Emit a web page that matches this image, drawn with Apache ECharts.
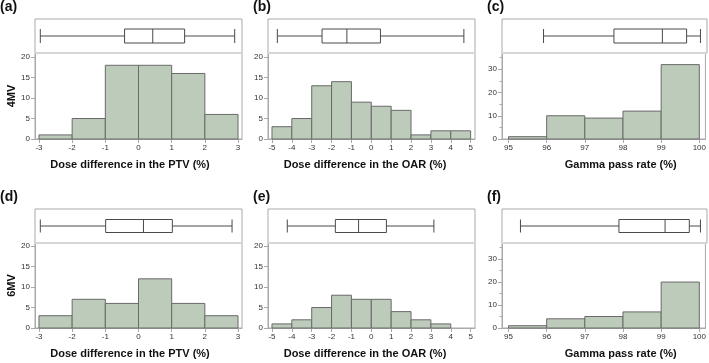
<!DOCTYPE html>
<html>
<head>
<meta charset="utf-8">
<script src="https://cdn.jsdelivr.net/npm/echarts@6/dist/echarts.min.js"></script>
<style>
html,body{margin:0;padding:0;background:#fff;}
#chart{width:709px;height:363px;}
</style>
</head>
<body>
<div id="chart"></div>
<script>
// ---------- data ----------
const ptvEdges   = [-3, -2, -1, 0, 1, 2, 3];
const oarEdges   = [-5, -4, -3, -2, -1, 0, 1, 2, 3, 4, 5];
const gammaEdges = [95, 96, 97, 98, 99, 100];

const countsPTV4  = [1, 5, 18, 18, 16, 6];
const countsOAR4  = [3, 5, 13, 14, 9, 8, 7, 1, 2, 2];
const countsGam4  = [1, 10, 9, 12, 32];
const countsPTV6  = [3, 7, 6, 12, 6, 3];
const countsOAR6  = [1, 2, 5, 8, 7, 7, 4, 2, 1, 0];
const countsGam6  = [1, 4, 5, 7, 20];

// [min, Q1, median, Q3, max]
const boxPTV4 = [-2.96, -0.42, 0.43, 1.39, 2.90];
const boxOAR4 = [-4.73, -2.48, -1.23, 0.46, 4.66];
const boxGam4 = [95.91, 97.74, 99.00, 99.63, 99.99];
const boxPTV6 = [-2.96, -0.99, 0.15, 1.02, 2.82];
const boxOAR6 = [-4.23, -1.81, -0.64, 0.76, 3.15];
const boxGam6 = [95.31, 97.87, 99.07, 99.70, 99.99];

const ptvTicks   = [-3, -2, -1, 0, 1, 2, 3];
const oarTicks   = [-5, -4, -3, -2, -1, 0, 1, 2, 3, 4, 5];
const gammaTicks = [95, 96, 97, 98, 99, 100];
const doseCountTicks   = [0, 5, 10, 15, 20];
const gammaCountTicks  = [0, 10, 20, 30];
const gammaMinorTicks  = [5, 15, 25, 35];

const namePTV   = 'Dose difference in the PTV (%)';
const nameOAR   = 'Dose difference in the OAR (%)';
const nameGamma = 'Gamma pass rate (%)';
const panelLabels = ['(a)', '(b)', '(c)', '(d)', '(e)', '(f)'];
const rowLabels = ['4MV', '6MV'];

// ---------- layout ----------
const FONT = 'Liberation Sans, Arial, Helvetica, sans-serif';
const FRAME = '#a9a9a9';
const cols = [
  {left: 35,  width: 207, min: -3.12, max: 3.12,   pad: [0, 17, 0, 0], labelX: 0},
  {left: 268, width: 207, min: -5.2,  max: 5.22,   pad: [0, 13, 0, 0], labelX: 253},
  {left: 502, width: 205, min: 94.83, max: 100.16, pad: [0, 0, 0, 34], labelX: 487}
];
const rows = [
  {top: 19,  boxH: 34, histH: 86, boxW: 14, doseMax: 21,    gamMax: 37, labelY: 8},
  {top: 209, boxH: 34, histH: 85, boxW: 13, doseMax: 20.75, gamMax: 37, labelY: 198}
];

const panels = [
  {row: 0, col: 0, edges: ptvEdges,   counts: countsPTV4, box: boxPTV4, xTicks: ptvTicks,   name: namePTV,   gamma: false},
  {row: 0, col: 1, edges: oarEdges,   counts: countsOAR4, box: boxOAR4, xTicks: oarTicks,   name: nameOAR,   gamma: false},
  {row: 0, col: 2, edges: gammaEdges, counts: countsGam4, box: boxGam4, xTicks: gammaTicks, name: nameGamma, gamma: true},
  {row: 1, col: 0, edges: ptvEdges,   counts: countsPTV6, box: boxPTV6, xTicks: ptvTicks,   name: namePTV,   gamma: false},
  {row: 1, col: 1, edges: oarEdges,   counts: countsOAR6, box: boxOAR6, xTicks: oarTicks,   name: nameOAR,   gamma: false},
  {row: 1, col: 2, edges: gammaEdges, counts: countsGam6, box: boxGam6, xTicks: gammaTicks, name: nameGamma, gamma: true}
];

const grid = [], xAxis = [], yAxis = [], series = [], graphic = [];

panels.forEach((p, i) => {
  const c = cols[p.col], r = rows[p.row];
  const gBox = grid.length;
  grid.push({left: c.left, top: r.top, width: c.width, height: r.boxH,
    show: true, borderColor: FRAME, borderWidth: 1, backgroundColor: 'transparent'});
  const gHist = grid.length;
  grid.push({left: c.left, top: r.top + r.boxH, width: c.width, height: r.histH,
    show: true, borderColor: FRAME, borderWidth: 1, backgroundColor: 'transparent'});

  const xBox = xAxis.length;
  xAxis.push({gridIndex: gBox, type: 'value', min: c.min, max: c.max, show: false});
  const xHist = xAxis.length;
  xAxis.push({
    gridIndex: gHist, type: 'value', min: c.min, max: c.max, position: 'bottom',
    axisLine: {show: true, onZero: false, lineStyle: {color: FRAME, width: 1}},
    axisTick: {show: true, customValues: p.xTicks, length: 4, lineStyle: {color: FRAME}},
    axisLabel: {show: true, customValues: p.xTicks, fontSize: 8, color: '#333', fontFamily: FONT, margin: 5},
    splitLine: {show: false},
    name: p.name, nameLocation: 'middle', nameGap: 20,
    nameTextStyle: {fontSize: 11, fontWeight: 'bold', color: '#111', fontFamily: FONT, padding: c.pad}
  });
  xAxis.push({
    gridIndex: gHist, type: 'value', min: c.min, max: c.max, position: 'top',
    axisLine: {show: true, onZero: false, lineStyle: {color: '#d6d6d6', width: 2}},
    axisTick: {show: false}, axisLabel: {show: false}, splitLine: {show: false}
  });

  const yBox = yAxis.length;
  yAxis.push({gridIndex: gBox, type: 'category', data: [''], show: false});
  const yHist = yAxis.length;
  const ymax = p.gamma ? r.gamMax : r.doseMax;
  const yTicks = p.gamma ? gammaCountTicks : doseCountTicks;
  yAxis.push({
    gridIndex: gHist, type: 'value', min: 0, max: ymax, position: 'left',
    axisLine: {show: true, onZero: false, lineStyle: {color: FRAME}},
    axisTick: {show: true, customValues: yTicks, length: 4, lineStyle: {color: FRAME}},
    axisLabel: {show: true, customValues: yTicks, fontSize: 8, color: '#333', fontFamily: FONT, margin: 5},
    splitLine: {show: false}
  });
  if (p.gamma) {
    yAxis.push({
      gridIndex: gHist, type: 'value', min: 0, max: ymax, position: 'left',
      axisLine: {show: false, onZero: false},
      axisTick: {show: true, customValues: gammaMinorTicks, length: 2.5, lineStyle: {color: FRAME}},
      axisLabel: {show: false}, splitLine: {show: false}
    });
  }

  const histData = p.counts.map((v, k) => [p.edges[k], p.edges[k + 1], v]);
  series.push({
    type: 'custom', xAxisIndex: xHist, yAxisIndex: yHist, data: histData,
    encode: {x: [0, 1], y: 2},
    renderItem: function (params, api) {
      const h = api.value(2);
      if (!h) return null;
      const a = api.coord([api.value(0), h]);
      const b = api.coord([api.value(1), 0]);
      return {type: 'rect', shape: {x: a[0], y: a[1], width: b[0] - a[0], height: b[1] - a[1]},
        style: {fill: '#bccbba', stroke: '#6a6a6a', lineWidth: 1}};
    }
  });
  series.push({
    type: 'boxplot', layout: 'horizontal', xAxisIndex: xBox, yAxisIndex: yBox,
    boxWidth: [r.boxW, r.boxW],
    itemStyle: {color: '#ffffff', borderColor: '#4a4a4a', borderWidth: 1},
    data: [p.box]
  });

  graphic.push({type: 'text', left: c.labelX, top: r.labelY - 8,
    style: {text: panelLabels[i], font: 'bold 14px ' + FONT, fill: '#111'}});
});

rows.forEach((r, k) => {
  graphic.push({type: 'text', x: 12, y: r.top + r.boxH + r.histH / 2, rotation: Math.PI / 2,
    style: {text: rowLabels[k], font: 'bold 11px ' + FONT, fill: '#111', align: 'center', verticalAlign: 'middle'}});
});

const chart = echarts.init(document.getElementById('chart'), null, {renderer: 'canvas'});
chart.setOption({
  animation: false,
  textStyle: {fontFamily: FONT},
  grid, xAxis, yAxis, series, graphic
});
</script>
</body>
</html>
